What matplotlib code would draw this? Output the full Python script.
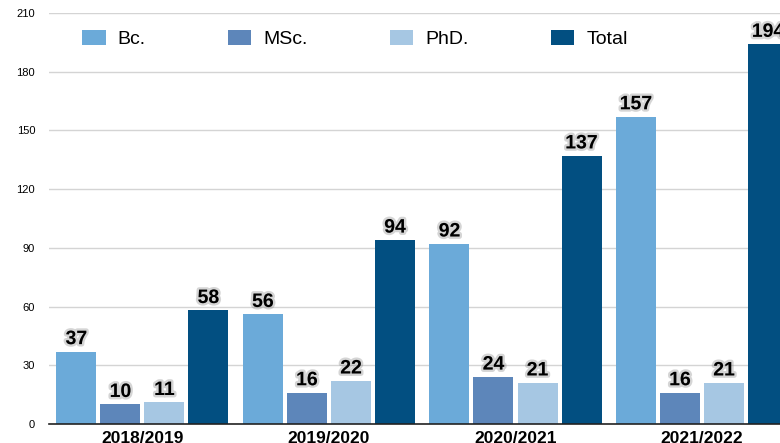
import numpy as np
import matplotlib
matplotlib.use("Agg")
import matplotlib.pyplot as plt
import matplotlib.patheffects as pe

years = ["2018/2019", "2019/2020", "2020/2021", "2021/2022"]
series = ["Bc.", "MSc.", "PhD.", "Total"]
bc = [37, 56, 92, 157]
msc = [10, 16, 24, 16]
phd = [11, 22, 21, 21]
total = [58, 94, 137, 194]
colors = ["#6BAAD9", "#5D86BA", "#A6C7E3", "#024F81"]

plt.rcParams['font.family'] = ['Liberation Sans', 'DejaVu Sans']

fig = plt.figure(figsize=(7.8, 4.43), dpi=100)
ax = fig.add_axes([49 / 780, 1 - 424 / 443, 1 - 49 / 780, (424 - 13) / 443])

x = np.arange(len(years))
step = 0.236
width = 0.2145
# soft dark halo like the original drop shadow
shadow = [pe.withStroke(linewidth=3.5, foreground="#777777", alpha=0.3)]

handles = []
for i, (name, vals) in enumerate(zip(series, [bc, msc, phd, total])):
    bars = ax.bar(x + (i - 1.5) * step, vals, width, color=colors[i],
                  label=name, zorder=3)
    labels = ax.bar_label(bars, padding=2.5, fontsize=14, fontweight="bold",
                          color="black")
    for t in labels:
        t.set_path_effects(shadow)
    handles.append(bars)

ax.set_xlim(-0.501, 3.418)
ax.set_ylim(0, 210)
ax.set_yticks(range(0, 211, 30))
ax.set_xticks(x)
ax.set_xticklabels(years, fontsize=12.5, fontweight="bold")
ax.tick_params(axis="x", length=0, pad=5)
ax.tick_params(axis="y", length=0, pad=10, labelsize=8)
ax.yaxis.grid(True, color="#d4d4d4", linewidth=1, zorder=0)
ax.set_axisbelow(True)
for side in ["left", "right", "top"]:
    ax.spines[side].set_visible(False)
ax.spines["bottom"].set_color("#222222")
ax.spines["bottom"].set_linewidth(1.2)
ax.spines["bottom"].set_zorder(4)

ax.legend(handles=handles, loc="upper left", bbox_to_anchor=(0.035, 0.978),
          ncol=4, frameon=False, fontsize=14, handlelength=1.2,
          handleheight=0.85, handletextpad=0.6, columnspacing=4.25,
          borderaxespad=0)

plt.savefig("out.png", dpi=100)
